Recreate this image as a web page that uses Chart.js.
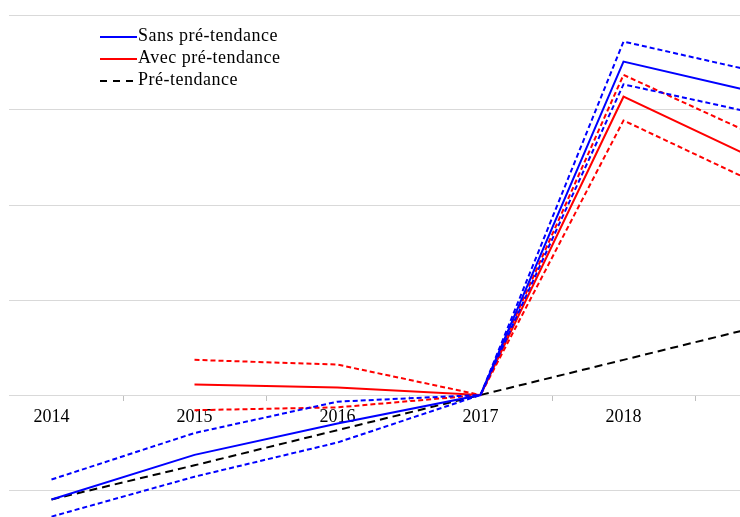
<!DOCTYPE html>
<html>
<head>
<meta charset="utf-8">
<script src="https://cdn.jsdelivr.net/npm/chart.js@4/dist/chart.umd.min.js"></script>
<style>
  html, body { margin: 0; padding: 0; background: #fff; overflow: hidden; }
  #wrap { position: absolute; left: 9px; top: 0; width: 731px; height: 517px; overflow: hidden; }
  #chart { position: absolute; left: -29px; top: 5px; }
  #legend { position: absolute; left: 100px; top: 24px; font-family: "Liberation Serif", serif; font-size: 18px; letter-spacing: 0.5px; color: #000; }
  #legend div { height: 22px; line-height: 22px; white-space: nowrap; }
  #legend svg { vertical-align: middle; }
</style>
</head>
<body>
<div id="wrap"><canvas id="chart" width="858" height="590"></canvas></div>
<div id="legend"></div>
<script>
const years = ["2014", "2015", "2016", "2017", "2018", "2019"];

const sansPre = [-1.10, -0.63, -0.30, 0, 3.51, 3.16];
const sansPreHaut = [-0.89, -0.40, -0.07, 0, 3.72, 3.38];
const sansPreBas = [-1.28, -0.86, -0.50, 0, 3.27, 2.94];

const avecPre = [null, 0.11, 0.08, 0, 3.14, 2.43];
const avecPreHaut = [null, 0.37, 0.32, 0, 3.37, 2.68];
const avecPreBas = [null, -0.16, -0.13, 0, 2.89, 2.18];

const preTendance = [-1.10, -0.74, -0.37, 0, 0.37, 0.74];

const BLUE = "#0000ff";
const RED = "#ff0000";

function serie(label, data, color, dash, width) {
  return {
    label: label,
    data: data,
    borderColor: color,
    borderWidth: width || 2,
    borderDash: dash || [],
    pointRadius: 0,
    tension: 0,
    fill: false,
    spanGaps: false
  };
}

const datasets = [
  serie("Sans pré-tendance", sansPre, BLUE),
  serie("Sans pré-tendance (haut)", sansPreHaut, BLUE, [5, 3]),
  serie("Sans pré-tendance (bas)", sansPreBas, BLUE, [5, 3]),
  serie("Avec pré-tendance", avecPre, RED),
  serie("Avec pré-tendance (haut)", avecPreHaut, RED, [5, 3]),
  serie("Avec pré-tendance (bas)", avecPreBas, RED, [5, 3]),
  serie("Pré-tendance", preTendance, "#000", [8, 5])
];

new Chart(document.getElementById("chart"), {
  type: "line",
  data: { labels: years, datasets: datasets },
  options: {
    responsive: false,
    animation: false,
    layout: { padding: { top: 10, bottom: 10, left: 0, right: 0 } },
    plugins: { legend: { display: false }, tooltip: { enabled: false } },
    scales: {
      x: {
        position: { y: 0 },
        offset: true,
        grid: { offset: true, drawOnChartArea: false, tickLength: 5, color: "#bfbfbf" },
        border: { color: "#d9d9d9" },
        ticks: { color: "#000", padding: 6, maxRotation: 0, font: { family: "Liberation Serif", size: 18 } }
      },
      y: {
        min: -2,
        max: 4,
        ticks: { display: false, stepSize: 1 },
        grid: { color: "#d9d9d9", drawTicks: false },
        border: { display: false },
        afterFit: function (scale) { scale.width = 0; }
      }
    }
  }
});

// légende
const legendItems = [
  { label: "Sans pré-tendance", color: BLUE, dash: "", w: 37, gap: 1 },
  { label: "Avec pré-tendance", color: RED, dash: "", w: 37, gap: 1 },
  { label: "Pré-tendance", color: "#000", dash: "7,6", w: 34, gap: 4 }
];
const legend = document.getElementById("legend");
for (let it of legendItems) {
  const row = document.createElement("div");
  row.innerHTML = '<svg width="' + it.w + '" height="4" style="margin-right:' + it.gap + 'px"><line x1="0" y1="2" x2="' + it.w +
    '" y2="2" stroke="' + it.color + '" stroke-width="2"' + (it.dash ? ' stroke-dasharray="' + it.dash + '"' : '') + '/></svg>';
  row.appendChild(document.createTextNode(it.label));
  legend.appendChild(row);
}
</script>
</body>
</html>
